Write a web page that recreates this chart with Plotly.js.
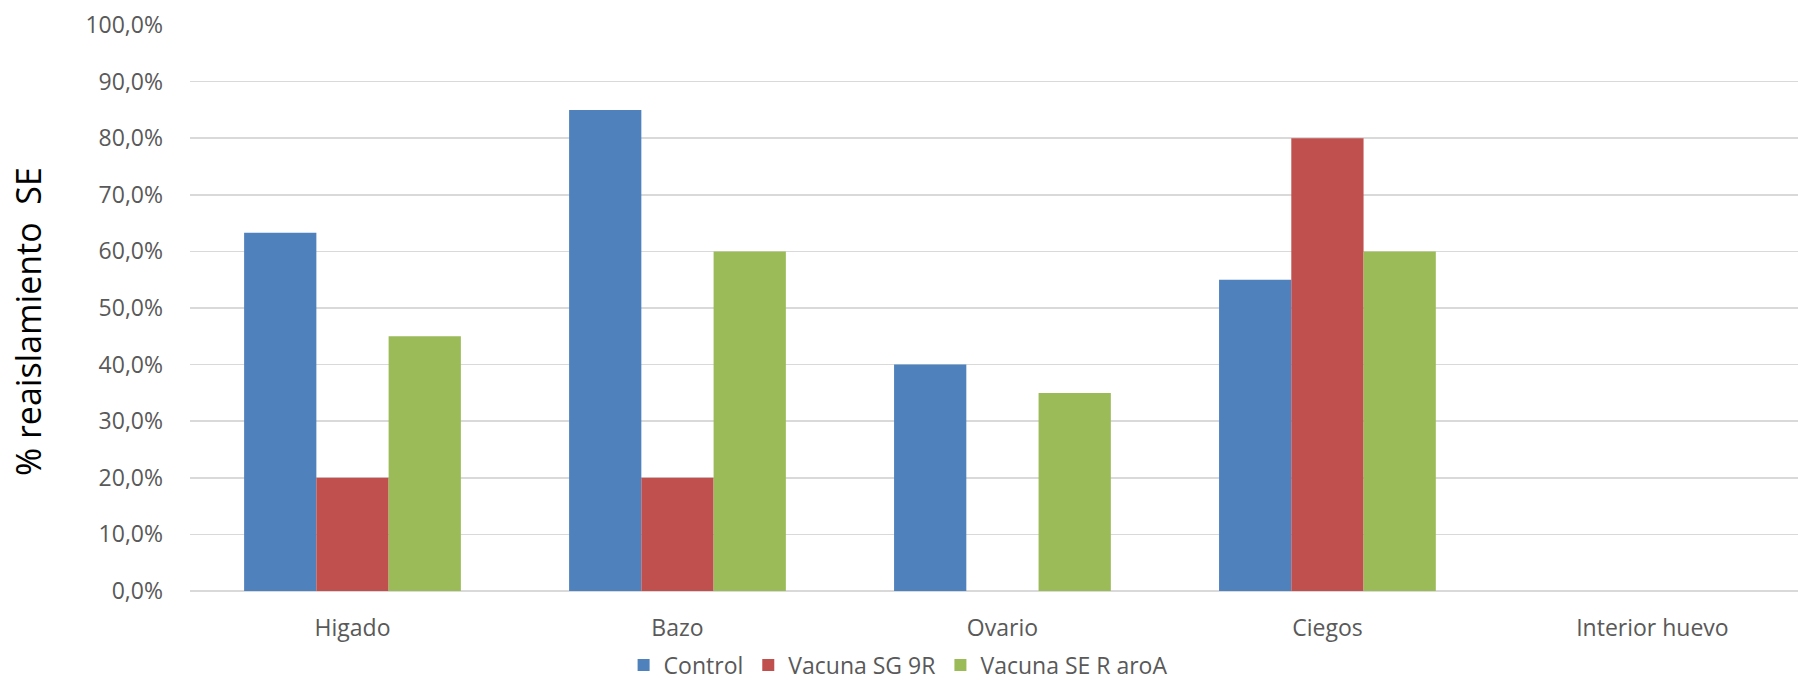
<!DOCTYPE html>
<html>
<head>
<meta charset="utf-8">
<script src="https://cdn.plot.ly/plotly-3.0.1.min.js"></script>
<style>html,body{margin:0;padding:0;background:#fff;}#chart{width:1798px;height:680px;}</style>
</head>
<body>
<div id="chart"></div>
<script>
const categories = ["Higado", "Bazo", "Ovario", "Ciegos", "Interior huevo"];
const seriesNames = ["Control", "Vacuna SG 9R", "Vacuna SE R aroA"];
const control = [0.633, 0.85, 0.40, 0.55, 0];
const vacunaSG9R = [0.20, 0.20, 0, 0.80, 0];
const vacunaSERaroA = [0.45, 0.60, 0.35, 0.60, 0];
const yTickValues = [0, 0.1, 0.2, 0.3, 0.4, 0.5, 0.6, 0.7, 0.8, 0.9, 1.0];
const yTitle = "% reaislamiento  SE";

const colors = ["#4F81BD", "#C0504D", "#9BBB59"];
const values = [control, vacunaSG9R, vacunaSERaroA];

const traces = values.map((v, i) => ({
  type: "bar",
  name: seriesNames[i],
  x: categories,
  y: v,
  marker: {color: colors[i], line: {width: 0}},
  hoverinfo: "skip"
}));

const layout = {
  width: 1798,
  height: 680,
  paper_bgcolor: "#ffffff",
  plot_bgcolor: "#ffffff",
  separators: ",.",
  margin: {l: 190, r: 0, t: 25, b: 89, pad: 0},
  barmode: "group",
  bargap: 0.333,
  bargroupgap: 0,
  font: {family: "Open Sans, sans-serif", color: "#595959", size: 23},
  showlegend: true,
  legend: {
    orientation: "h",
    xref: "container",
    yref: "container",
    x: 0.4995,
    xanchor: "center",
    y: 0.022,
    yanchor: "middle",
    font: {size: 23, color: "#595959"},
    itemwidth: 30,
    tracegroupgap: 0
  },
  xaxis: {
    type: "category",
    range: [-0.5, 4.448],
    showgrid: false,
    showline: false,
    zeroline: false,
    ticks: "",
    ticklabelstandoff: 21,
    tickfont: {size: 23, color: "#595959"},
    fixedrange: true
  },
  yaxis: {
    range: [0, 1],
    tickvals: yTickValues,
    tickformat: ".1%",
    showgrid: true,
    gridcolor: "#D9D9D9",
    gridwidth: 1.5,
    zeroline: true,
    zerolinecolor: "#D9D9D9",
    zerolinewidth: 1.5,
    showline: false,
    ticks: "",
    ticklabelstandoff: 26,
    tickfont: {size: 23, color: "#595959"},
    automargin: false,
    fixedrange: true
  },
  annotations: [{
    text: yTitle,
    xref: "paper",
    yref: "paper",
    x: -162 / 1608,
    y: (591 - 322) / 566,
    xanchor: "center",
    yanchor: "middle",
    textangle: -90,
    showarrow: false,
    font: {size: 34, color: "#000000", family: "Open Sans, sans-serif"}
  }]
};

Plotly.newPlot("chart", traces, layout, {displayModeBar: false, staticPlot: true});
</script>
</body>
</html>
